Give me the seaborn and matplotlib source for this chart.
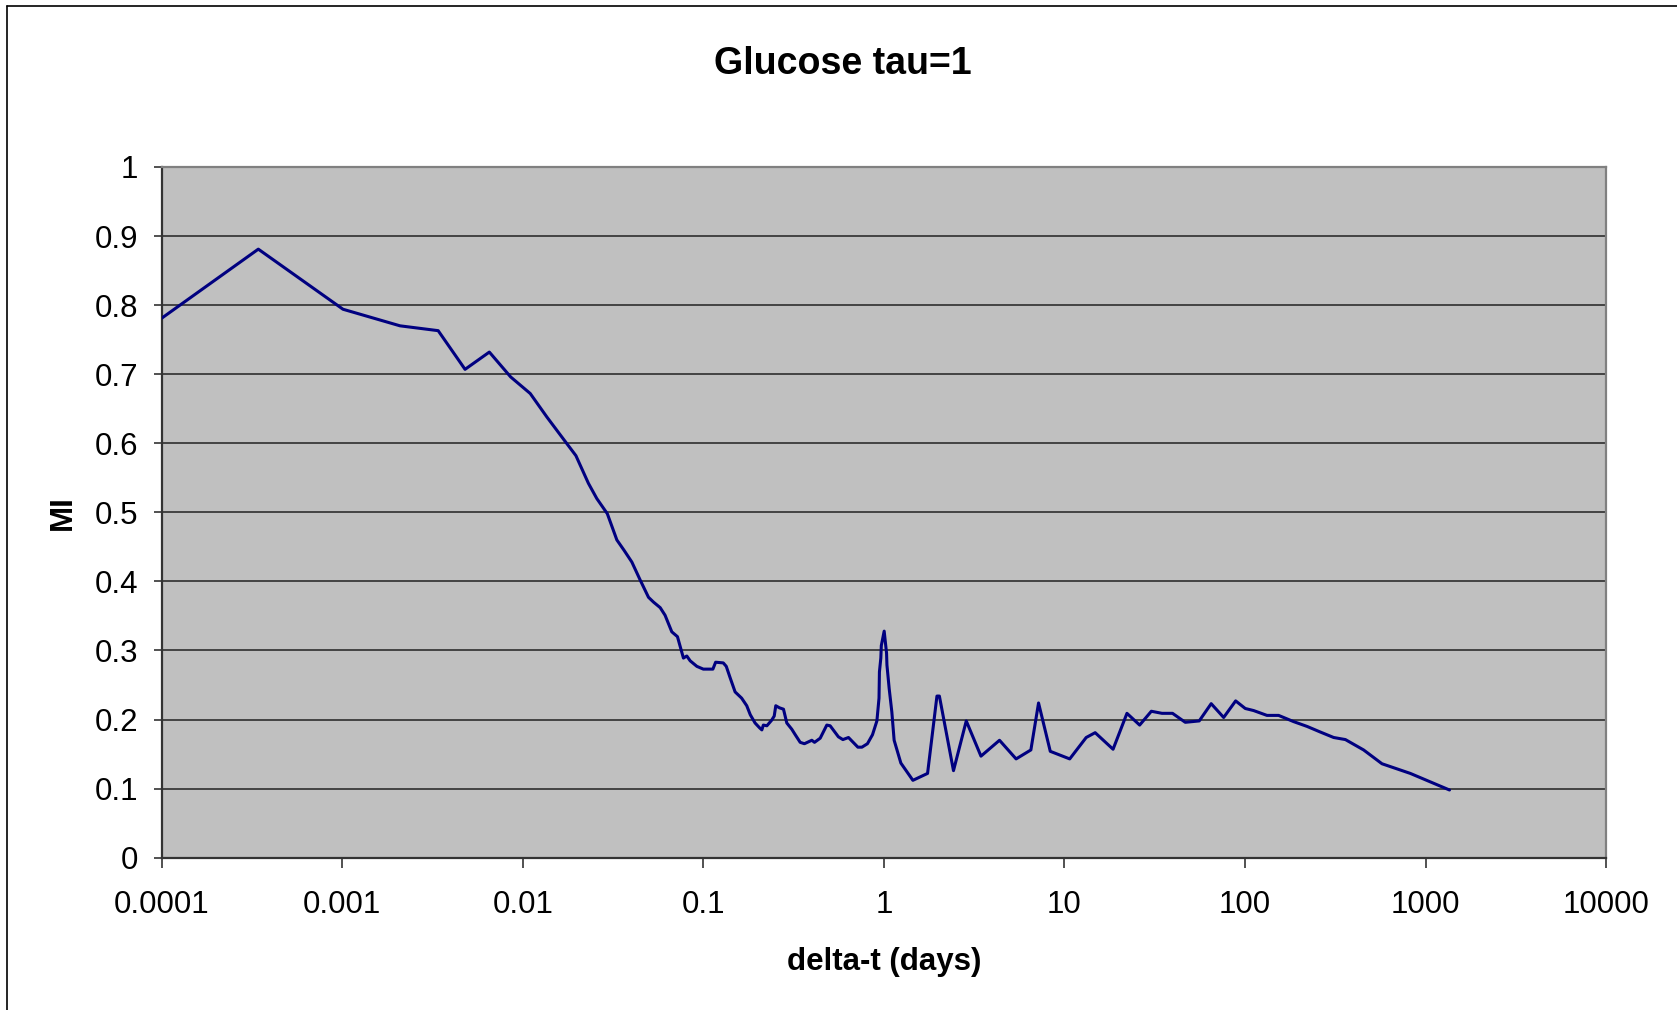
import matplotlib
matplotlib.use("Agg")
import matplotlib.pyplot as plt
import seaborn as sns
import pandas as pd
from matplotlib.lines import Line2D

delta_t = [
    1e-4, 3.43e-4, 1.01e-3, 2.09e-3, 3.40e-3, 4.79e-3, 6.53e-3, 8.57e-3,
    0.0110, 0.0136, 0.0168, 0.0197, 0.0231, 0.0257, 0.0294, 0.0332, 0.0364,
    0.0402, 0.0447, 0.0497, 0.0530, 0.0577, 0.0614, 0.0669, 0.0719, 0.0776,
    0.0810, 0.0846, 0.0921, 0.100, 0.113, 0.117, 0.129, 0.134, 0.141, 0.150,
    0.163, 0.174, 0.182, 0.1935, 0.205, 0.211, 0.215, 0.225, 0.239, 0.247,
    0.252, 0.264, 0.278, 0.290, 0.309, 0.323, 0.344, 0.363, 0.399, 0.413,
    0.444, 0.483, 0.504, 0.560, 0.593, 0.637, 0.718, 0.756, 0.811, 0.865,
    0.915, 0.940, 0.945, 0.962, 0.968, 1.004, 1.035, 1.040, 1.070, 1.107,
    1.140, 1.242, 1.448, 1.746, 1.968, 2.03, 2.43, 2.86, 3.45, 4.37, 5.40,
    6.52, 7.19, 8.35, 10.7, 13.2, 14.8, 18.6, 22.2, 26.1, 30.3, 34.7, 39.7,
    46.7, 55.8, 65.0, 76.2, 88.8, 100.4, 111.7, 132.4, 153.6, 186, 221, 261,
    310, 360, 454, 574, 824, 1358,
]
mi = [
    0.781, 0.881, 0.794, 0.770, 0.763, 0.707, 0.732, 0.696,
    0.672, 0.638, 0.606, 0.582, 0.542, 0.520, 0.498, 0.460, 0.445,
    0.428, 0.402, 0.377, 0.370, 0.362, 0.351, 0.327, 0.320, 0.289,
    0.292, 0.285, 0.277, 0.273, 0.273, 0.283, 0.282, 0.277, 0.260, 0.240,
    0.231, 0.220, 0.207, 0.195, 0.188, 0.185, 0.192, 0.191, 0.199, 0.205,
    0.220, 0.217, 0.215, 0.195, 0.186, 0.178, 0.167, 0.165, 0.170, 0.167,
    0.173, 0.192, 0.191, 0.175, 0.171, 0.174, 0.160, 0.160, 0.165, 0.178,
    0.198, 0.231, 0.269, 0.289, 0.307, 0.328, 0.296, 0.279, 0.245, 0.211,
    0.170, 0.137, 0.112, 0.122, 0.234, 0.234, 0.126, 0.198, 0.147, 0.170, 0.143,
    0.156, 0.224, 0.154, 0.143, 0.174, 0.181, 0.157, 0.209, 0.192, 0.212, 0.209, 0.209,
    0.196, 0.198, 0.223, 0.203, 0.227, 0.216, 0.213, 0.206, 0.206, 0.197, 0.190, 0.182,
    0.174, 0.171, 0.156, 0.136, 0.122, 0.098,
]
x_ticks = [1e-4, 1e-3, 1e-2, 1e-1, 1, 10, 100, 1000, 10000]
x_tick_labels = ["0.0001", "0.001", "0.01", "0.1", "1", "10", "100", "1000", "10000"]
y_ticks = [0, 0.1, 0.2, 0.3, 0.4, 0.5, 0.6, 0.7, 0.8, 0.9, 1]
y_tick_labels = ["0", "0.1", "0.2", "0.3", "0.4", "0.5", "0.6", "0.7", "0.8", "0.9", "1"]

df = pd.DataFrame({"delta_t": delta_t, "MI": mi})

sns.set_theme(style="white")
plt.rcParams["font.family"] = ["Liberation Sans", "DejaVu Sans"]
plt.rcParams["text.color"] = "black"
plt.rcParams["axes.labelcolor"] = "black"
plt.rcParams["xtick.color"] = "black"
plt.rcParams["ytick.color"] = "black"

fig = plt.figure(figsize=(16.77, 10.10), dpi=100)
ax = fig.add_axes([0.0964, 0.1508, 0.9577 - 0.0964, 0.8347 - 0.1508])
ax.set_facecolor("#C0C0C0")

sns.lineplot(data=df, x="delta_t", y="MI", ax=ax, sort=False, estimator=None,
             color="#000080", linewidth=2.2, zorder=3)

ax.set_xscale("log")
ax.set_xlim(1e-4, 1e4)
ax.set_ylim(0, 1)
ax.set_xticks(x_ticks)
ax.set_xticklabels(x_tick_labels)
ax.set_yticks(y_ticks)
ax.set_yticklabels(y_tick_labels)
ax.xaxis.set_minor_locator(matplotlib.ticker.NullLocator())

ax.grid(axis="y", color="#222222", linewidth=1.1, zorder=1)
ax.grid(axis="x", visible=False)
ax.set_axisbelow(True)

for side in ["left", "bottom"]:
    ax.spines[side].set_color("#333333")
    ax.spines[side].set_linewidth(1.6)
for side in ["top", "right"]:
    ax.spines[side].set_color("#808080")
    ax.spines[side].set_linewidth(1.6)

ax.tick_params(axis="y", which="major", direction="out", length=6, width=1.2,
               color="#333333", labelsize=22.5, pad=11, left=True, labelcolor="black")
ax.tick_params(axis="x", which="major", direction="out", length=7, width=1.2,
               color="#333333", labelsize=22.5, pad=16, bottom=True, labelcolor="black")

ax.set_xlabel("delta-t (days)", fontsize=22.5, fontweight="bold", labelpad=20,
              color="black")
ax.set_ylabel("MI", fontsize=22.5, fontweight="bold", labelpad=12, color="black")

fig.text(0.5026, 0.937, "Glucose tau=1", fontsize=27, fontweight="bold",
         ha="center", va="center", color="black")

# outer chart border
fig.add_artist(Line2D([7.3 / 1677, 7.3 / 1677], [0, 1 - 5.7 / 1010],
                      transform=fig.transFigure, color="black", linewidth=1.2))
fig.add_artist(Line2D([7.3 / 1677, 1], [1 - 5.7 / 1010, 1 - 5.7 / 1010],
                      transform=fig.transFigure, color="black", linewidth=1.2))

fig.savefig("out.png", dpi=100)
